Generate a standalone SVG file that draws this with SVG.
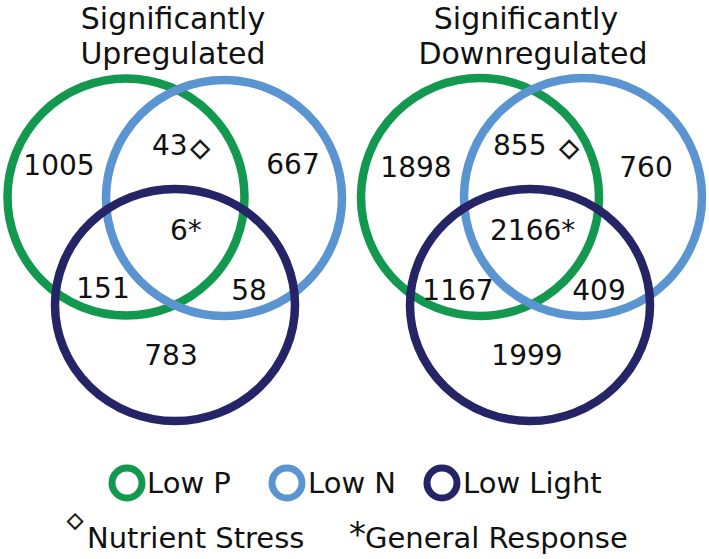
<svg xmlns="http://www.w3.org/2000/svg" width="709" height="559" viewBox="0 0 709 559">
  <style>
    text { font-family: "DejaVu Sans", "Liberation Sans", sans-serif; fill: #111; }
    .title { font-size: 30px; text-anchor: middle; }
    .num { font-size: 28px; }
    .mid { text-anchor: middle; }
    .leg { font-size: 29px; }
    .dia { font-size: 25px; text-anchor: middle; fill: #111; stroke: #111; stroke-width: 1; }
    .ring { fill: none; stroke-width: 8.5; }
    .lring { fill: none; stroke-width: 7; }
    .p { stroke: #12984f; }
    .n { stroke: #5a95d2; }
    .l { stroke: #252466; }
  </style>
  <rect width="709" height="559" fill="#ffffff"/>

  <g id="up">
    <g id="up-title">
      <text class="title" x="173" y="29">Significantly</text>
      <text class="title" x="173" y="64">Upregulated</text>
    </g>
    <g id="up-lowP"><circle class="ring p" cx="126" cy="197" r="118.5"/></g>
    <g id="up-lowN"><circle class="ring n" cx="224" cy="198" r="118"/></g>
    <g id="up-lowLight"><ellipse class="ring l" cx="175" cy="305" rx="120" ry="116"/></g>
    <g id="up-labels">
      <text class="num mid" x="59" y="175">1005</text>
      <text class="num" x="152" y="155">43</text>
      <text class="dia" x="200" y="156">◇</text>
      <text class="num mid" x="293" y="174">667</text>
      <text class="num" x="170" y="240">6*</text>
      <text class="num mid" x="103" y="298">151</text>
      <text class="num mid" x="249" y="300">58</text>
      <text class="num mid" x="171" y="365">783</text>
    </g>
  </g>

  <g id="down">
    <g id="down-title">
      <text class="title" x="526" y="29">Significantly</text>
      <text class="title" x="533" y="64">Downregulated</text>
    </g>
    <g id="down-lowP"><circle class="ring p" cx="480" cy="197" r="119"/></g>
    <g id="down-lowN"><circle class="ring n" cx="583" cy="197" r="119"/></g>
    <g id="down-lowLight"><ellipse class="ring l" cx="530" cy="305" rx="120" ry="116"/></g>
    <g id="down-labels">
      <text class="num mid" x="416" y="177">1898</text>
      <text class="num" x="493" y="155">855</text>
      <text class="dia" x="569" y="156">◇</text>
      <text class="num mid" x="646" y="177">760</text>
      <text class="num" x="490" y="240">2166*</text>
      <text class="num mid" x="458" y="300">1167</text>
      <text class="num mid" x="599" y="300">409</text>
      <text class="num mid" x="527" y="365">1999</text>
    </g>
  </g>

  <g id="connectors"/>

  <g id="legend">
    <g id="leg-lowP">
      <circle class="lring p" cx="127" cy="483" r="15"/>
      <text class="leg" x="147" y="493">Low P</text>
    </g>
    <g id="leg-lowN">
      <circle class="lring n" cx="287" cy="483" r="15"/>
      <text class="leg" x="308" y="493">Low N</text>
    </g>
    <g id="leg-lowLight">
      <circle class="lring l" cx="442" cy="483" r="15"/>
      <text class="leg" x="463" y="493">Low Light</text>
    </g>
    <g id="leg-nutrient">
      <text class="dia" x="75" y="527" style="font-size:21px;stroke-width:0.8">◇</text>
      <text class="leg" x="87" y="548">Nutrient Stress</text>
    </g>
    <g id="leg-general">
      <text class="leg" x="349" y="546" style="font-size:34px">*</text>
      <text class="leg" x="365" y="548">General Response</text>
    </g>
  </g>
</svg>
